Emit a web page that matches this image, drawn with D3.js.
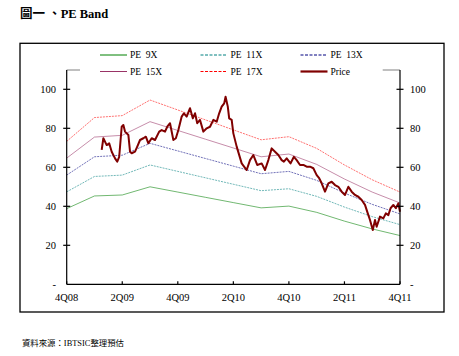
<!DOCTYPE html>
<html><head><meta charset="utf-8">
<script src="https://cdn.jsdelivr.net/npm/d3@7"></script>
<style>body{margin:0;background:#fff}svg{display:block}</style>
</head><body>
<script>
// ---- data ----
const tickQuarters = [0, 2, 4, 6, 8, 10, 12];
const tickLabels = ["4Q08", "2Q09", "4Q09", "2Q10", "4Q10", "2Q11", "4Q11"];
const yTicks = [0, 20, 40, 60, 80, 100];
const yTickLabels = ["-", "20", "40", "60", "80", "100"];
const bandQuarters = [0, 1, 2, 3, 4, 5, 6, 7, 8, 9, 10, 11, 12];
const pe9  = [38.8, 45.3, 45.8, 50.0, 47.3, 44.6, 41.9, 39.2, 40.1, 36.9, 32.4, 28.4, 25.0];
const pe11 = [47.4, 55.3, 56.0, 61.2, 57.9, 54.6, 51.3, 48.0, 49.0, 45.1, 39.6, 34.7, 30.6];
const pe13 = [56.0, 65.4, 66.2, 72.3, 68.4, 64.5, 60.6, 56.7, 57.9, 53.3, 46.8, 41.0, 36.1];
const pe15 = [64.7, 75.5, 76.4, 83.4, 78.9, 74.4, 69.9, 65.4, 66.8, 61.5, 54.0, 47.3, 41.7];
const pe17 = [73.3, 85.5, 86.5, 94.5, 89.4, 84.3, 79.2, 74.1, 75.7, 69.7, 61.2, 53.6, 47.3];
const priceT = [1.26,1.32,1.44,1.53,1.62,1.74,1.82,1.89,1.98,2.04,2.10,2.22,2.28,2.34,2.46,2.54,2.64,2.76,2.85,2.94,
  3.06,3.18,3.33,3.42,3.54,3.62,3.72,3.84,3.93,4.02,4.14,4.22,4.32,4.44,4.54,4.62,4.70,4.80,4.92,5.04,
  5.16,5.28,5.40,5.49,5.58,5.67,5.72,5.80,5.85,5.94,6.00,6.12,6.30,6.48,6.60,6.72,6.86,7.02,7.14,7.26,
  7.38,7.50,7.62,7.74,7.82,7.92,8.06,8.18,8.28,8.40,8.52,8.64,8.76,8.88,9.00,9.09,9.18,9.30,9.42,9.54,
  9.66,9.78,9.90,10.02,10.14,10.26,10.38,10.50,10.62,10.74,10.84,10.92,11.02,11.10,11.16,11.28,11.40,11.49,11.58,11.66,
  11.76,11.85,11.94,12.00];
const priceV = [68.9,74.9,71.4,72.3,68.0,64.6,62.9,65.4,80.8,81.7,78.3,76.6,68.0,67.2,68.0,70.6,74.0,74.9,75.7,72.3,
  74.9,74.0,78.3,79.1,78.3,80.8,82.6,74.0,74.9,79.1,86.0,87.7,86.0,90.3,85.1,87.7,82.6,84.3,78.3,80.0,
  80.8,84.3,83.4,87.7,91.1,92.8,96.2,91.1,85.1,84.3,77.4,70.6,62.0,58.6,63.7,66.3,61.2,62.0,58.6,63.7,
  69.7,68.0,66.3,63.7,62.9,64.6,62.0,65.4,63.7,61.2,61.2,60.3,60.3,59.5,56.0,54.4,51.8,47.5,51.8,52.6,
  50.9,50.0,47.5,45.8,50.0,47.5,45.8,44.9,43.2,40.7,36.4,33.0,27.8,33.0,29.5,34.7,33.8,36.4,35.5,39.0,
  40.7,39.0,41.5,37.2];
const bands = [
  {name: "PE  9X",  values: pe9,  color: "#008000", dash: null},
  {name: "PE  11X", values: pe11, color: "#008080", dash: "3,1.5"},
  {name: "PE  13X", values: pe13, color: "#000080", dash: "3,1.5"},
  {name: "PE  15X", values: pe15, color: "#993366", dash: null},
  {name: "PE  17X", values: pe17, color: "#FF0000", dash: "3,1.5"}
];

// ---- layout ----
const W = 459, H = 356;
const svg = d3.select("body").append("svg").attr("width", W).attr("height", H);
const serif = "'Liberation Serif','Times New Roman','Noto Sans CJK TC',serif";

const x0 = 66.7, x1 = 400, yTop = 70, yBottom = 284.3, y100 = 89.3;
const x = d3.scaleLinear().domain([0, 12]).range([x0, x1]);
const y = d3.scaleLinear().domain([0, 100]).range([yBottom, y100]);

// title
svg.append("text").attr("x", 20).attr("y", 18).attr("font-family", serif)
  .attr("font-weight", "bold").attr("font-size", 12.5).attr("fill", "#000")
  .attr("xml:space", "preserve").style("white-space", "pre").text("圖一 、PE Band");

// outer frame
svg.append("rect").attr("x", 20).attr("y", 43.3).attr("width", 424).attr("height", 268.7)
  .attr("fill", "none").attr("stroke", "#000").attr("stroke-width", 1.3);

// source
svg.append("text").attr("x", 22).attr("y", 346).attr("font-family", serif)
  .attr("font-size", 8.4).attr("fill", "#000").text("資料來源：IBTSIC整理預估");

// plot top gray border
svg.append("line").attr("x1", x0).attr("x2", x1).attr("y1", yTop).attr("y2", yTop)
  .attr("stroke", "#808080").attr("stroke-width", 1);

// bands
const line = d3.line().x((d, i) => x(bandQuarters[i])).y(d => y(d));
bands.forEach(b => {
  svg.append("path").attr("d", line(b.values)).attr("fill", "none")
    .attr("stroke", b.color).attr("stroke-width", 0.8).attr("stroke-opacity", 0.7)
    .attr("stroke-dasharray", b.dash ? "2,1" : null);
});

// price
const pLine = d3.line().x((d, i) => x(priceT[i])).y(d => y(d));
svg.append("path").attr("d", pLine(priceV)).attr("fill", "none")
  .attr("stroke", "#800000").attr("stroke-width", 2).attr("stroke-linejoin", "round");

// axes
const axisG = svg.append("g").attr("stroke", "#000").attr("stroke-width", 1.2);
axisG.append("line").attr("x1", x0).attr("x2", x0).attr("y1", yTop).attr("y2", yBottom);
axisG.append("line").attr("x1", x1).attr("x2", x1).attr("y1", yTop).attr("y2", yBottom);
axisG.append("line").attr("x1", x0).attr("x2", x1).attr("y1", yBottom).attr("y2", yBottom);

yTicks.forEach((t, i) => {
  const yy = y(t);
  if (t > 0) {
    axisG.append("line").attr("x1", x0 - 3.5).attr("x2", x0 + 3.5).attr("y1", yy).attr("y2", yy);
    axisG.append("line").attr("x1", x1 - 3.5).attr("x2", x1 + 3.5).attr("y1", yy).attr("y2", yy);
  }
  svg.append("text").attr("x", 56).attr("y", yy + 3.7).attr("text-anchor", "end")
    .attr("font-family", serif).attr("font-size", 10.5).attr("fill", "#000").text(yTickLabels[i]);
  svg.append("text").attr("x", 410).attr("y", yy + 3.7).attr("text-anchor", "start")
    .attr("font-family", serif).attr("font-size", 10.5).attr("fill", "#000").text(yTickLabels[i]);
});

tickQuarters.forEach((q, i) => {
  const xx = x(q);
  axisG.append("line").attr("x1", xx).attr("x2", xx).attr("y1", yBottom).attr("y2", yBottom - 3);
  svg.append("text").attr("x", xx).attr("y", 300.5).attr("text-anchor", "middle")
    .attr("font-family", serif).attr("font-size", 10.5).attr("fill", "#000").text(tickLabels[i]);
});

// legend
svg.append("rect").attr("x", 80).attr("y", 46).attr("width", 302.7).attr("height", 29).attr("fill", "#fff");
const legendItems = bands.map(b => ({name: b.name, color: b.color, dash: b.dash, w: 1}))
  .concat([{name: "Price", color: "#800000", dash: null, w: 2.2}]);
const legendPos = [[100, 55], [200.5, 55], [300.5, 55], [100, 71.5], [200.5, 71.5], [300.5, 71.5]];
legendItems.forEach((it, i) => {
  const [lx, ly] = legendPos[i];
  svg.append("line").attr("x1", lx).attr("x2", lx + 27).attr("y1", ly).attr("y2", ly)
    .attr("stroke", it.color).attr("stroke-width", it.w).attr("stroke-dasharray", it.dash);
  svg.append("text").attr("x", lx + 30).attr("y", ly + 3.3).attr("font-family", serif)
    .attr("font-size", 9.5).attr("fill", "#000").attr("xml:space", "preserve")
    .style("white-space", "pre").text(it.name);
});
</script>
</body></html>
